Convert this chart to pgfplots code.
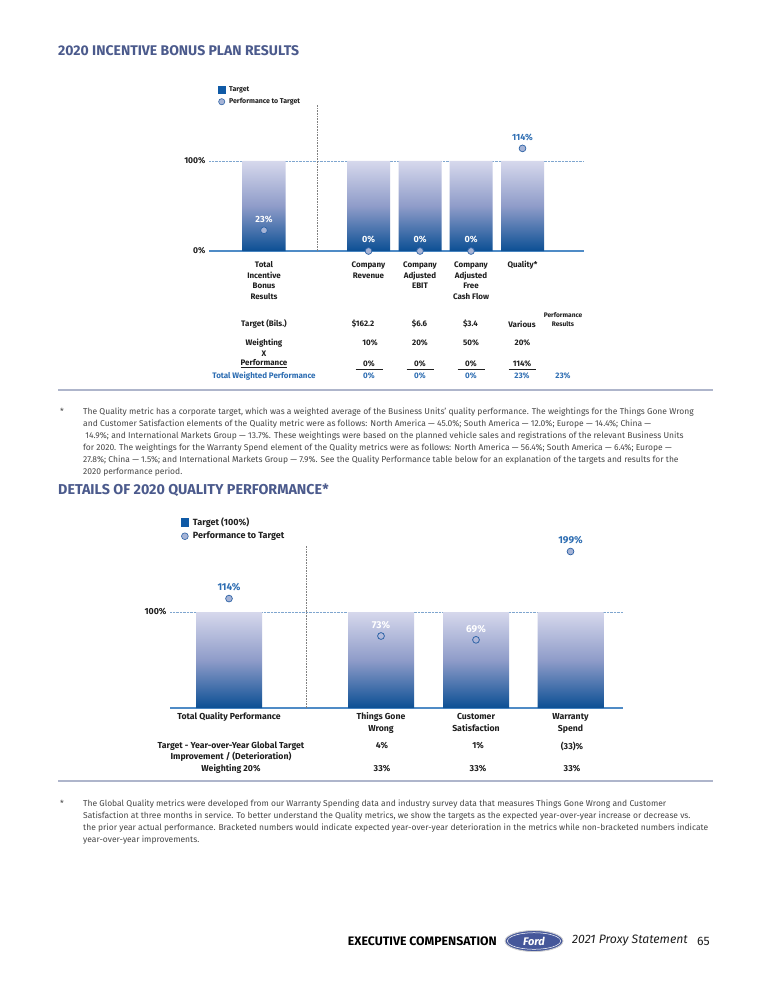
\documentclass[border=0pt]{standalone}
\usepackage{fontspec}
\setmainfont{Fira Sans}
\usepackage{pgfplots}
\pgfplotsset{compat=1.18}
\newcommand\fs[2]{\fontsize{#1}{#2}\selectfont}

\definecolor{titleblue}{HTML}{4B5A8C}
\definecolor{valblue}{HTML}{2D6DB2}
\definecolor{tblue}{HTML}{0F5AA6}
\definecolor{cedge}{HTML}{2E63A6}
\definecolor{cfill}{HTML}{A6B4D6}
\definecolor{btop}{HTML}{D6D8EC}
\definecolor{bmid}{HTML}{8F9CC9}
\definecolor{bbot}{HTML}{0B4F94}
\definecolor{baseln}{HTML}{4F8BC6}
\definecolor{gridln}{HTML}{7FA6CF}
\definecolor{sepln}{HTML}{AEB5CB}
\definecolor{ford}{HTML}{45579A}
\definecolor{txt}{HTML}{1E1E1E}
\definecolor{fn}{HTML}{464646}

\pgfplotsset{
  perfbar/.style={ybar, draw=none, top color=btop, bottom color=bbot, middle color=bmid},
  perfdot/.style={only marks, mark=*, mark size=3.4pt,
    mark options={draw=cedge, fill=cfill, line width=0.7pt},
    point meta=explicit symbolic, nodes near coords,
    nodes near coords style={anchor=south, yshift=4pt}},
  pageaxis/.style={anchor=south west, scale only axis, clip=false,
    axis x line=bottom, axis y line=left,
    x axis line style={-, draw=baseln, line width=1.1pt},
    y axis line style={draw=none},
    major tick length=0pt,
    ymajorgrids, grid style={densely dotted, gridln, line width=0.6pt},
    xticklabel style={align=center, anchor=north, text=txt},
    yticklabel style={text=txt},
    legend cell align=left,
    legend style={draw=none, fill=none, inner sep=0pt, text=txt}},
}

\begin{document}
\begin{tikzpicture}
\path[use as bounding box, fill=white] (0pt,0pt) rectangle (768pt,-1000pt);

% ---------- chart 1: incentive bonus plan ----------
\begin{axis}[pageaxis,
  at={(209pt,-251pt)}, width=375pt, height=146pt,
  xmin=209, xmax=584, ymin=0, ymax=162.2,
  xtick={264,368.5,420,471,522.5},
  xticklabels={{\strut Total\\\strut Incentive\\\strut Bonus\\\strut Results},
    {\strut Company\\\strut Revenue},
    {\strut Company\\\strut Adjusted\\\strut EBIT},
    {\strut Company\\\strut Adjusted\\\strut Free\\\strut Cash Flow},
    {\strut Quality*}},
  xticklabel style={font=\bfseries\fs{8}{10.6}, yshift=-5.5pt},
  ytick={0,100}, yticklabels={0\%,100\%},
  yticklabel style={font=\bfseries\fs{8.5}{9}},
  legend style={at={(axis description cs:0.024,1.14)}, anchor=north west,
    font=\bfseries\fs{7}{8}, row sep=1.2pt},
]
\addlegendimage{legend image code/.code={\fill[tblue] (0pt,-3.3pt) rectangle (6.6pt,3.3pt); \path (8.5pt,0pt);}}
\addlegendentry{Target}
\addlegendimage{legend image code/.code={\filldraw[draw=cedge, fill=cfill, line width=0.6pt] (3.3pt,0pt) circle (3.1pt); \path (8.5pt,0pt);}}
\addlegendentry{Performance to Target}

\addplot[perfbar, bar width=43, forget plot] coordinates
  {(264,100) (368.5,100) (420,100) (471,100) (522.5,100)};
\draw[densely dotted, gray, line width=0.6pt] (axis cs:317,0) -- (axis cs:317,162.2);
\addplot[perfdot, forget plot, nodes near coords style={font=\bfseries\fs{9}{9}, text=white}]
  coordinates {(264,23) [23\%] (368.5,0) [0\%] (420,0) [0\%] (471,0) [0\%]};
\addplot[perfdot, forget plot, nodes near coords style={font=\bfseries\fs{9}{9}, text=valblue}]
  coordinates {(522.5,114) [114\%]};
\end{axis}

% ---------- chart 2: quality performance ----------
\begin{axis}[pageaxis,
  at={(170pt,-708pt)}, width=453pt, height=163.2pt,
  xmin=170, xmax=623, ymin=0, ymax=170,
  xtick={229,381,476,570.5},
  xticklabels={{\strut Total Quality Performance},{\strut Things Gone\\\strut Wrong},
    {\strut Customer\\\strut Satisfaction},{\strut Warranty\\\strut Spend}},
  xticklabel style={font=\bfseries\fs{8.7}{12.5}, yshift=1pt},
  ytick={100}, yticklabels={100\%},
  yticklabel style={font=\bfseries\fs{8.8}{9}},
  legend style={at={(axis description cs:0.024,1.18)}, anchor=north west,
    font=\bfseries\fs{9}{10}, row sep=1.2pt},
]
\addlegendimage{legend image code/.code={\fill[tblue] (0pt,-3.6pt) rectangle (7.2pt,3.6pt); \path (9.5pt,0pt);}}
\addlegendentry{Target (100\%)}
\addlegendimage{legend image code/.code={\filldraw[draw=cedge, fill=cfill, line width=0.6pt] (3.6pt,0pt) circle (3.4pt); \path (9.5pt,0pt);}}
\addlegendentry{Performance to Target}

\addplot[perfbar, bar width=66, forget plot] coordinates
  {(229,100) (381,100) (476,100) (570.5,100)};
\draw[densely dotted, gray, line width=0.6pt] (axis cs:306,0) -- (axis cs:306,170);
\addplot[perfdot, forget plot, nodes near coords style={font=\bfseries\fs{10}{10}, text=valblue}]
  coordinates {(229,114) [114\%] (570.5,163) [199\%]};
\addplot[perfdot, forget plot, mark=o, mark options={draw=cedge, line width=0.8pt},
  nodes near coords style={font=\bfseries\fs{10}{10}, text=white, yshift=-1pt}]
  coordinates {(381,75) [73\%] (476,71) [69\%]};
\end{axis}

% ---------- page text ----------
\begin{scope}[x=1pt, y=-1pt]
\node[anchor=west, inner sep=0pt, text=titleblue, font=\bfseries\fs{14}{16}] at (58,51)
  {2020 INCENTIVE BONUS PLAN RESULTS};

\begin{scope}[font=\bfseries\fs{8}{9}, text=txt, inner sep=0pt]
\node at (264,324) {Target (Bils.)};
\node at (363,324) {\$162.2};
\node at (419.5,324) {\$6.6};
\node at (470.5,324) {\$3.4};
\node at (522,324) {Various};
\node[font=\bfseries\fs{6.6}{9}, align=center] at (563,319.5) {Performance\\Results};
\node at (264,343) {Weighting};
\node at (264,354) {X};
\node at (264,364) {\underline{Performance}};
\foreach \x/\v in {370/10,420/20,471/50,522.5/20} \node at (\x,343) {\v\%};
\foreach \x/\v in {369/0\%,420/0\%,471/0\%,522/114\%} {
  \node at (\x,364) {\v};
  \draw[txt, line width=0.6pt] (\x-13.5,369.5) -- (\x+13.5,369.5);
}
\begin{scope}[text=valblue]
\node at (264,376) {Total Weighted Performance};
\foreach \x/\v in {369/0,420/0,471/0,522/23,563/23} \node at (\x,376) {\v\%};
\end{scope}
\end{scope}

\draw[sepln, line width=1.4pt] (58,390) -- (713,390);
\node[anchor=north west, inner sep=0pt, text=fn, font=\fs{8.5}{12}] at (60,408) {*};
\node[anchor=north west, inner sep=0pt, align=left, text=fn, font=\fs{8.5}{12}] at (83,408)
 {The Quality metric has a corporate target, which was a weighted average of the Business Units’ quality performance. The weightings for the Things Gone Wrong\\
  and Customer Satisfaction elements of the Quality metric were as follows: North America — 45.0\%; South America — 12.0\%; Europe — 14.4\%; China —\\
  \ 14.9\%; and International Markets Group — 13.7\%. These weightings were based on the planned vehicle sales and registrations of the relevant Business Units\\
  for 2020. The weightings for the Warranty Spend element of the Quality metrics were as follows: North America — 56.4\%; South America — 6.4\%; Europe —\\
  27.8\%; China — 1.5\%; and International Markets Group — 7.9\%. See the Quality Performance table below for an explanation of the targets and results for the\\
  2020 performance period.};

\node[anchor=west, inner sep=0pt, text=titleblue, font=\bfseries\fs{14.3}{16}] at (58,490)
  {DETAILS OF 2020 QUALITY PERFORMANCE*};

\begin{scope}[font=\bfseries\fs{8.7}{11.5}, text=txt, inner sep=0pt]
\node[align=center] at (231,757.5) {Target - Year-over-Year Global Target\\Improvement / (Deterioration)\\Weighting 20\%};
\node at (382,746) {4\%};
\node at (478,746) {1\%};
\node at (572,746) {(33)\%};
\foreach \x in {382,478,572} \node at (\x,769) {33\%};
\end{scope}

\draw[sepln, line width=1.4pt] (58,781) -- (713,781);
\node[anchor=north west, inner sep=0pt, text=fn, font=\fs{8.5}{12}] at (60,800) {*};
\node[anchor=north west, inner sep=0pt, align=left, text=fn, font=\fs{8.5}{12}] at (83,800)
 {The Global Quality metrics were developed from our Warranty Spending data and industry survey data that measures Things Gone Wrong and Customer\\
  Satisfaction at three months in service. To better understand the Quality metrics, we show the targets as the expected year-over-year increase or decrease vs.\\
  the prior year actual performance. Bracketed numbers would indicate expected year-over-year deterioration in the metrics while non-bracketed numbers indicate\\
  year-over-year improvements.};

% footer
\node[anchor=east, inner sep=0pt, text=black, font=\bfseries\fs{12.3}{14}] at (497,941) {EXECUTIVE COMPENSATION};
\draw[gray!35, line width=0.9pt, fill=ford] (534,941) ellipse (29 and 10.5);
\draw[white, line width=0.5pt] (534,941) ellipse (26.5 and 8.3);
\node[text=white, font=\bfseries\itshape\fs{11}{11}, inner sep=0pt] at (534,941) {Ford};
\node[anchor=west, inner sep=0pt, text=txt, font=\itshape\fs{12.2}{14}] at (572,941) {2021 Proxy Statement};
\node[anchor=west, inner sep=0pt, text=txt, font=\fs{12.2}{14}] at (697,941) {65};
\end{scope}
\end{tikzpicture}
\end{document}
